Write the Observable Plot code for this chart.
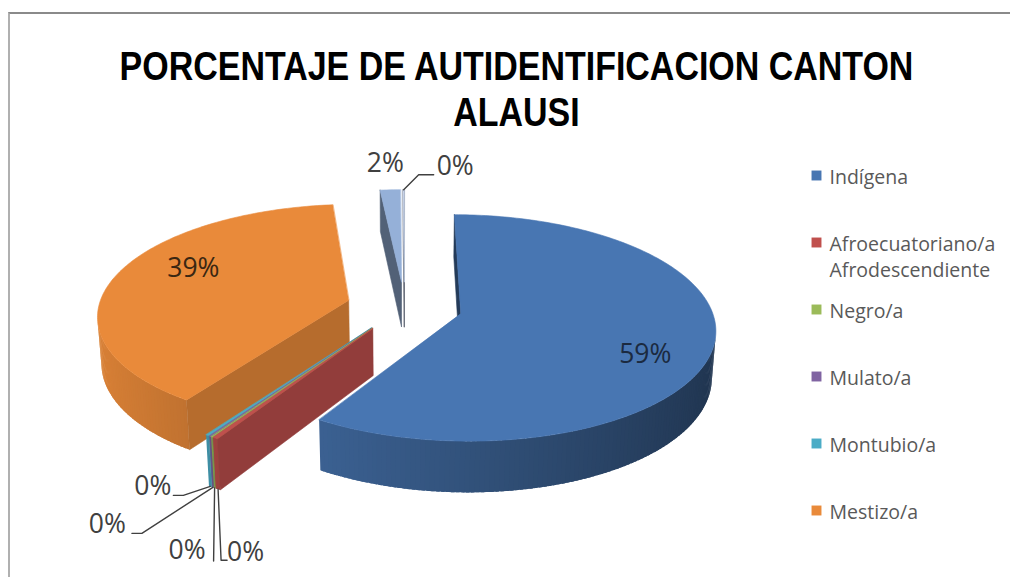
<!DOCTYPE html>
<html><head><meta charset="utf-8">
<script src="https://cdn.jsdelivr.net/npm/d3@7"></script>
<script src="https://cdn.jsdelivr.net/npm/@observablehq/plot@0.6"></script>
<style>
html,body{margin:0;padding:0;background:#fff;}
#wrap{position:relative;width:1010px;height:577px;overflow:hidden;}
#frame{position:absolute;left:8px;top:12px;width:1020px;height:580px;border-top:2px solid #8a8a8a;border-left:2px solid #b0b0b0;}
#chart{position:absolute;left:0;top:0;}
</style></head><body>
<div id="wrap"><div id="frame"></div><div id="chart"></div></div>
<script>
// ---------- data ----------
const title = "PORCENTAJE DE AUTIDENTIFICACION CANTON\nALAUSI";
const categories = ["Indígena","Afroecuatoriano/a Afrodescendiente","Negro/a","Mulato/a","Montubio/a","Mestizo/a","Blanco/a","Otro/a"];
const values = [58.8, 0.3, 0.1, 0.1, 0.2, 38.9, 1.5, 0.1];
const valueLabels = ["59%","0%","0%","0%","0%","39%","2%","0%"];
const legendLabels = ["Indígena","Afroecuatoriano/a\nAfrodescendiente","Negro/a","Mulato/a","Montubio/a","Mestizo/a"];

// ---------- style / layout ----------
const colors = ["#4876b2","#c0504d","#9bbb59","#8064a2","#4bacc6","#e98a3a","#95b0d8","#c6d3ea"];
const G = {cx:404, cy:306, R:250, phi:26, D:1775, h:52, explode:58, step:1, overlap:0.7};
const labelLayout = [
  {place:"inside", r:0.72, dx:4, dy:19, anchor:"middle", color:"#1b2a40"},
  {place:"rimBottom", dx:9, dy:63, anchor:"start", leader:[[0,0],[3,71],[9,71]]},
  {place:"rimBottom", dx:-9, dy:63, anchor:"end", leader:[[0,0],[-1,73]]},
  {place:"rimBottom", dx:-87, dy:37, anchor:"end", leader:[[0,0],[-71,46],[-81,46]]},
  {place:"rimBottom", dx:-39, dy:0, anchor:"end", leader:[[0,0],[-27,9],[-37,9]]},
  {place:"inside", r:0.72, dx:13, dy:-13, anchor:"middle", color:"#3a2712"},
  {place:"rimTop", dx:-5, dy:-26, anchor:"middle"},
  {place:"rimTop", dx:33, dy:-23, anchor:"start", leader:[[0,0],[15,-15],[30,-15]]}
];
const legendLayout = {x:816, textX:829, y0:175, step:67, lineGap:26};

// ---------- 3D projection ----------
const rad = d => d*Math.PI/180;
const sinP = Math.sin(rad(G.phi)), cosP = Math.cos(rad(G.phi));
function proj(X, Y, Z){
  const zv = Y*cosP - Z*sinP, yv = Y*sinP + Z*cosP, s = G.D/(G.D+zv);
  return [G.cx + X*s, G.cy - yv*s];
}
const total = d3.sum(values);
let acc = 0;
const slices = categories.map((c,i) => {
  const a0 = acc/total*360; acc += values[i]; const a1 = acc/total*360; const m = (a0+a1)/2;
  return {i, c, a0, a1, m, ox: G.explode*Math.sin(rad(m)), oy: G.explode*Math.cos(rad(m))};
});
const P = (s, t, r, Z) => proj(s.ox + r*Math.sin(rad(t)), s.oy + r*Math.cos(rad(t)), Z);
function area(pts){let a=0;for(let k=0;k<pts.length;k++){const p=pts[k],q=pts[(k+1)%pts.length];a+=p[0]*q[1]-q[0]*p[1];}return a/2;}
function shade(col, f){const c=d3.rgb(col);return d3.rgb(c.r*f,c.g*f,c.b*f).formatHex();}
const wallF = t => 0.69 - 0.245*Math.sin(rad(t));
const depth = s => (s.oy + 0.5*G.R*Math.cos(rad(s.m)));
const order = slices.slice().sort((a,b) => depth(b) - depth(a));

const faces = []; let fid = 0;
function addFace(pts, fill, stroke){ fid++; for (const [x,y] of pts) faces.push({id:fid, x, y, fill, stroke: stroke || fill}); }
for (const s of order){
  const base = colors[s.i];
  const Vt = proj(s.ox, s.oy, 0), Vb = proj(s.ox, s.oy, -G.h);
  const n = Math.max(1, Math.ceil((s.a1-s.a0)/G.step));
  const segs = [];
  for (let k=0;k<n;k++){
    const t1 = s.a0 + (s.a1-s.a0)*k/n, t2 = s.a0 + (s.a1-s.a0)*(k+1)/n;
    const test = [P(s,t2,G.R,0), P(s,t1,G.R,0), P(s,t1,G.R,-G.h), P(s,t2,G.R,-G.h)];
    if (area(test) > 0) segs.push({t1, t2});
  }
  // overlapping wall strips (each one slightly covers the next) so no seams show
  segs.forEach((g, k) => {
    const next = segs[k+1];
    const te = (next && Math.abs(next.t1 - g.t2) < 1e-9) ? Math.min(g.t2 + G.overlap, next.t2) : g.t2;
    const ts = g.t1, pts = [];
    const m = 3;
    for (let j=0;j<=m;j++) pts.push(P(s, ts + (te-ts)*j/m, G.R, 0));
    for (let j=m;j>=0;j--) pts.push(P(s, ts + (te-ts)*j/m, G.R, -G.h));
    addFace(pts, shade(base, wallF((g.t1+g.t2)/2)), "none");
  });
  let pts = [Vt, Vb, P(s,s.a0,G.R,-G.h), P(s,s.a0,G.R,0)];
  if (area(pts) > 0) addFace(pts, shade(base, 0.5 + 0.5*Math.max(0, -Math.sin(rad(s.a0)))));
  pts = [Vt, P(s,s.a1,G.R,0), P(s,s.a1,G.R,-G.h), Vb];
  if (area(pts) > 0) addFace(pts, shade(base, 0.5 + 0.5*Math.max(0, Math.sin(rad(s.a1)))));
  const top = [Vt];
  for (let k=0;k<=n;k++) top.push(P(s, s.a0 + (s.a1-s.a0)*k/n, G.R, 0));
  addFace(top, base);
}

// ---------- labels ----------
const labels = [], leaders = [];
slices.forEach((s,i) => {
  const L = labelLayout[i];
  let a;
  if (L.place === "inside") a = P(s, s.m, G.R*L.r, 0);
  else if (L.place === "rimBottom") a = P(s, s.m, G.R, -G.h);
  else a = P(s, s.m, G.R, 0);
  labels.push({x:a[0]+L.dx, y:a[1]+L.dy, text:valueLabels[i], anchor:L.anchor, color:L.color || "#404040"});
  if (L.leader) L.leader.forEach(([dx,dy]) => leaders.push({id:i, x:a[0]+dx, y:a[1]+dy}));
});

// ---------- legend ----------
const legend = legendLabels.map((t,i) => {
  const y = legendLayout.y0 + i*legendLayout.step;
  const lines = t.split("\n").length;
  return {label:t, color:colors[i], x:legendLayout.x, y, tx:legendLayout.textX, ty:y + (lines-1)*legendLayout.lineGap/2};
});

const font = "'Open Sans', sans-serif";
const textMark = anchor => Plot.text(labels, {filter: d => d.anchor === anchor, x:"x", y:"y", text:"text", fill:"color",
  textAnchor: anchor, lineAnchor:"middle", fontSize:26.5, fontFamily:font});

const chart = Plot.plot({
  width:1010, height:577, margin:0,
  x:{domain:[0,1010], range:[0,1010], axis:null},
  y:{domain:[0,577], range:[0,577], axis:null},
  color:{type:"identity"},
  style:{background:"transparent"},
  marks:[
    Plot.line(faces, {x:"x", y:"y", z:"id", fill:"fill", stroke:"stroke", strokeWidth:0.6, curve:"linear-closed"}),
    Plot.line(leaders, {x:"x", y:"y", z:"id", stroke:"#404040", strokeWidth:1.4}),
    textMark("middle"), textMark("start"), textMark("end"),
    Plot.dot(legend, {x:"x", y:"y", fill:"color", symbol:"square", r:5.6}),
    Plot.text(legend, {x:"tx", y:"ty", text:"label", textAnchor:"start", lineAnchor:"middle", lineHeight:1.33,
      fontSize:19.5, fill:"#595959", fontFamily:font}),
    Plot.text([title], {frameAnchor:"top", dx:11, dy:47, text:d=>d, lineAnchor:"top", lineHeight:1.122,
      fontSize:41, fontWeight:"bold", fill:"#000", fontFamily:"'Liberation Sans', Arial, sans-serif", ariaLabel:"title"})
  ]
});
document.getElementById("chart").appendChild(chart);

// condense the title like the original narrow typeface
const txt = chart.querySelector('text[aria-label="title"]') ||
  Array.from(chart.querySelectorAll("text")).find(t => t.textContent.startsWith("PORCENTAJE"));
if (txt){
  const w = txt.getBBox().width;
  const sc = 794 / w;
  const ns = "http://www.w3.org/2000/svg";
  const wrapG = document.createElementNS(ns, "g");
  wrapG.setAttribute("transform", `translate(505,0) scale(${sc},1) translate(-505,0)`);
  txt.parentNode.insertBefore(wrapG, txt);
  wrapG.appendChild(txt);
}
</script>
</body></html>
